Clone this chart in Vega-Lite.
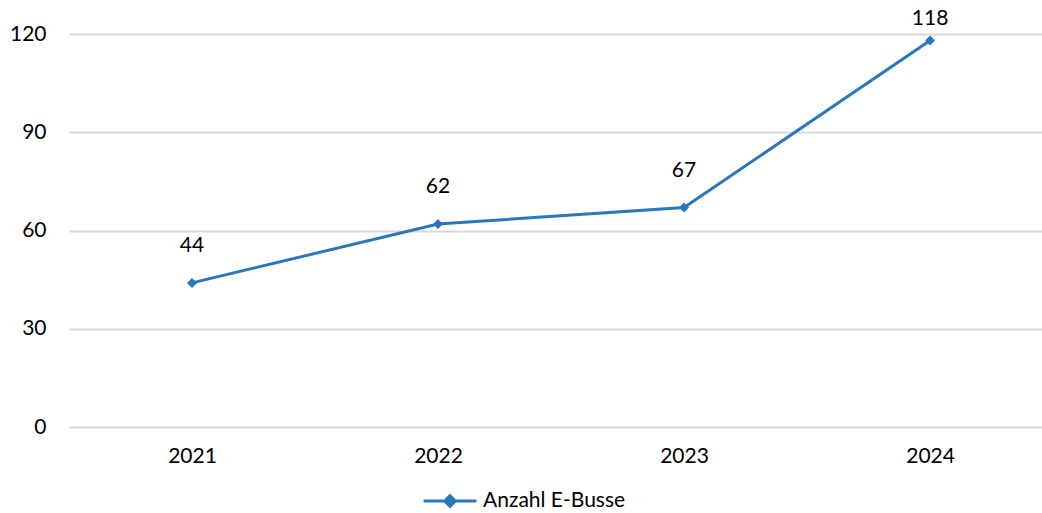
{
  "$schema": "https://vega.github.io/schema/vega-lite/v6.json",
  "width": 973,
  "height": 393,
  "autosize": {"type": "none"},
  "padding": {"left": 69, "top": 34, "right": 0, "bottom": 86},
  "background": "white",
  "config": {
    "view": {"stroke": null},
    "font": "Lato",
    "text": {"font": "Lato"}
  },
  "data": {
    "values": [
      {"Jahr": 2021, "Wert": 44, "Serie": "Anzahl E-Busse"},
      {"Jahr": 2022, "Wert": 62, "Serie": "Anzahl E-Busse"},
      {"Jahr": 2023, "Wert": 67, "Serie": "Anzahl E-Busse"},
      {"Jahr": 2024, "Wert": 118, "Serie": "Anzahl E-Busse"}
    ]
  },
  "encoding": {
    "x": {
      "field": "Jahr",
      "type": "quantitative",
      "scale": {"domain": [2020.5, 2024.455], "nice": false, "zero": false},
      "axis": {
        "title": null,
        "values": [2021, 2022, 2023, 2024],
        "format": "d",
        "grid": false,
        "labelAngle": 0,
        "domain": false,
        "ticks": false,
        "labelPadding": 18,
        "labelFontSize": 21,
        "labelColor": "#000000",
        "labelFont": "Lato"
      }
    },
    "y": {
      "field": "Wert",
      "type": "quantitative",
      "scale": {"domain": [0, 120], "nice": false},
      "axis": {
        "title": null,
        "values": [0, 30, 60, 90, 120],
        "domain": false,
        "ticks": false,
        "labelPadding": 23,
        "labelFontSize": 21,
        "labelColor": "#000000",
        "labelFont": "Lato",
        "gridColor": "#D9D9D9",
        "gridWidth": 2
      }
    }
  },
  "layer": [
    {
      "mark": {"type": "line", "strokeWidth": 3, "color": "#2A78B8"},
      "encoding": {
        "color": {
          "field": "Serie",
          "type": "nominal",
          "scale": {"range": ["#2A78B8"]},
          "legend": {
            "title": null,
            "orient": "none",
            "legendX": 353,
            "legendY": 439,
            "direction": "horizontal",
            "symbolType": "M-1,0H1M0,-0.2L0.2,0L0,0.2L-0.2,0Z",
            "symbolSize": 2809,
            "symbolStrokeWidth": 3,
            "symbolFillColor": "#2A78B8",
            "symbolStrokeColor": "#2A78B8",
            "labelFontSize": 21,
            "labelFont": "Lato",
            "labelColor": "#000000",
            "labelOffset": 5
          }
        }
      }
    },
    {
      "mark": {"type": "point", "shape": "diamond", "filled": true, "size": 100, "color": "#2A78B8", "opacity": 1}
    },
    {
      "transform": [{"filter": "datum.Wert < 100"}],
      "mark": {"type": "text", "dy": -37, "fontSize": 21, "font": "Lato", "color": "#000000"},
      "encoding": {"text": {"field": "Wert", "type": "quantitative"}}
    },
    {
      "transform": [{"filter": "datum.Wert >= 100"}],
      "mark": {"type": "text", "dy": -22, "fontSize": 21, "font": "Lato", "color": "#000000"},
      "encoding": {"text": {"field": "Wert", "type": "quantitative"}}
    }
  ]
}
